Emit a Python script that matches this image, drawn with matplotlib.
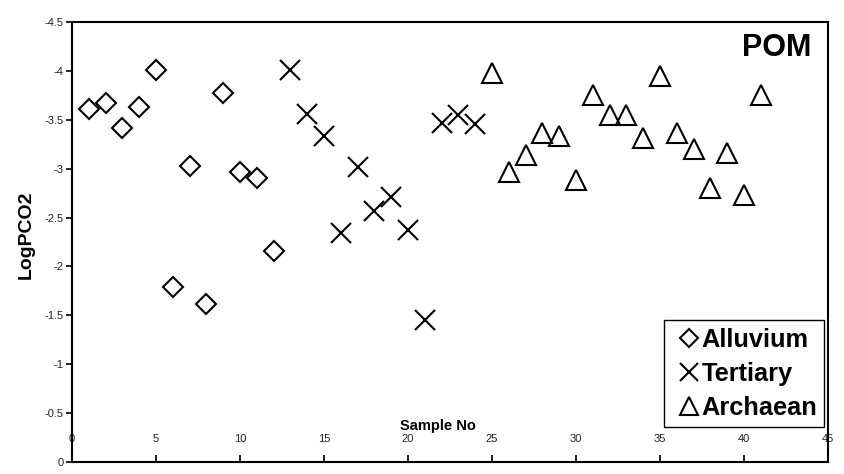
import matplotlib
matplotlib.use("Agg")
import matplotlib.pyplot as plt
from matplotlib.ticker import FuncFormatter

plt.rcParams['font.family'] = ['Liberation Sans', 'DejaVu Sans']

# ---- data ----
alluvium_x = [1, 2, 3, 4, 5, 6, 7, 8, 9, 10, 11, 12]
alluvium_y = [-3.61, -3.67, -3.42, -3.63, -4.01, -1.79, -3.03, -1.62, -3.77, -2.97, -2.90, -2.16]

tertiary_x = [13, 14, 15, 16, 17, 18, 19, 20, 21, 22, 23, 24]
tertiary_y = [-4.01, -3.56, -3.33, -2.34, -3.02, -2.57, -2.71, -2.37, -1.45, -3.47, -3.55, -3.46]

archaean_x = [25, 26, 27, 28, 29, 30, 31, 32, 33, 34, 35, 36, 37, 38, 39, 40, 41]
archaean_y = [-3.98, -2.97, -3.14, -3.36, -3.33, -2.88, -3.75, -3.55, -3.55, -3.31,
              -3.95, -3.36, -3.20, -2.80, -3.16, -2.73, -3.75]

x_ticks = [0, 5, 10, 15, 20, 25, 30, 35, 40, 45]
y_ticks = [0, -0.5, -1, -1.5, -2, -2.5, -3, -3.5, -4, -4.5]

fig = plt.figure(figsize=(8.45, 4.74), dpi=100)
ax = fig.add_axes([0.0852, 0.0253, 0.8948, 0.9283])

mk = dict(linestyle='none', markerfacecolor='none', markeredgecolor='black',
          markeredgewidth=1.5, color='black')
ax.plot(alluvium_x, alluvium_y, marker='D', markersize=10.2, label='Alluvium', **mk)
ax.plot(tertiary_x, tertiary_y, marker='x', markersize=14.4, label='Tertiary', **mk)
ax.plot(archaean_x, archaean_y, marker='^', markersize=14.0, label='Archaean', **mk)

ax.set_xlim(0, 45)
ax.set_ylim(0, -4.5)
ax.set_xticks(x_ticks)
ax.set_yticks(y_ticks)
ax.yaxis.set_major_formatter(FuncFormatter(lambda v, p: '%g' % v))
ax.xaxis.set_major_formatter(FuncFormatter(lambda v, p: '%g' % v))

for s in ax.spines.values():
    s.set_linewidth(1.5)
    s.set_color('black')

ax.tick_params(axis='y', direction='out', length=4, width=1.2, labelsize=8,
               labelcolor='#222222', pad=2)
ax.tick_params(axis='x', direction='in', length=5, width=1.2, labelsize=8,
               labelcolor='#222222', pad=-20)

ax.set_xlabel('Sample No', fontsize=10.5, fontweight='bold')
ax.xaxis.set_label_coords(0.484, 0.098)
ax.set_ylabel('LogPCO2', fontsize=14, fontweight='bold')
ax.yaxis.set_label_coords(-0.049, 0.516)

ax.text(0.9325, 0.941, 'POM', transform=ax.transAxes, ha='center', va='center',
        fontsize=22, fontweight='bold')

leg = ax.legend(loc='lower right', bbox_to_anchor=(0.995, 0.0795), fancybox=False,
                frameon=True, edgecolor='black', framealpha=1, markerscale=0.9,
                prop={'size': 18.3, 'weight': 'bold'}, handlelength=1.45,
                handletextpad=-0.25, borderpad=0.28, labelspacing=0.4,
                borderaxespad=0)
leg.get_frame().set_linewidth(1.0)

fig.savefig('out.png', dpi=100)
